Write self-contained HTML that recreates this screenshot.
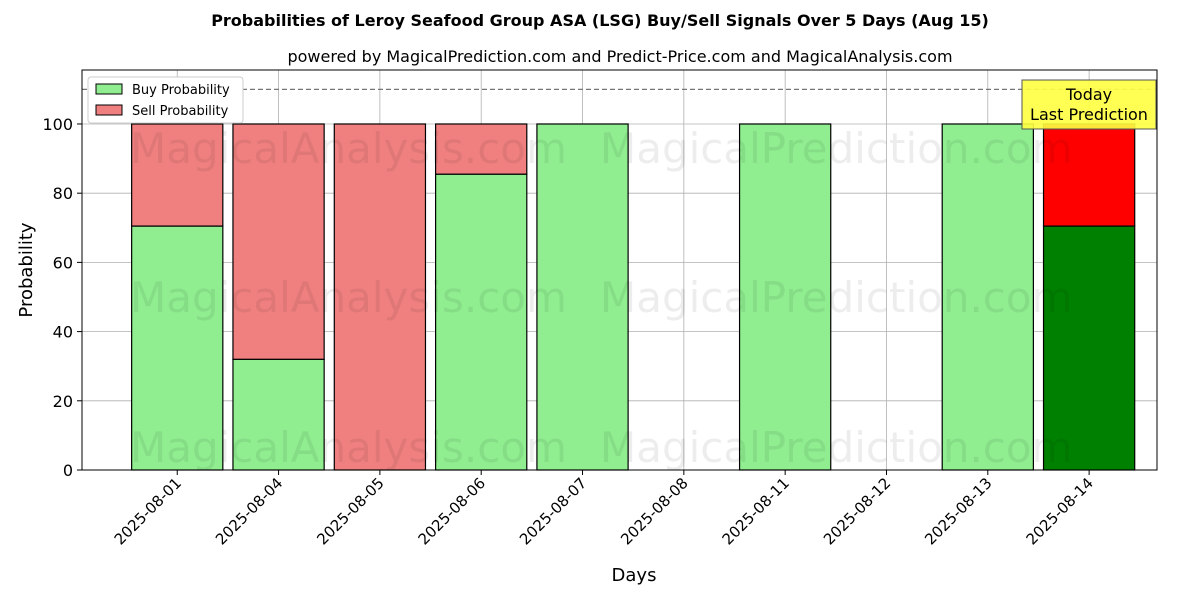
<!DOCTYPE html>
<html><head><meta charset="utf-8"><style>
body{margin:0;background:#fff;font-family:"Liberation Sans","DejaVu Sans",sans-serif}
svg text{font-family:"DejaVu Sans","Liberation Sans",sans-serif}
</style></head><body>
<svg id="chart" width="1200" height="600" xmlns="http://www.w3.org/2000/svg">
<text x="600" y="26" text-anchor="middle" font-size="16" font-weight="bold">Probabilities of Leroy Seafood Group ASA (LSG) Buy/Sell Signals Over 5 Days (Aug 15)</text>
<text x="620" y="62" text-anchor="middle" font-size="16">powered by MagicalPrediction.com and Predict-Price.com and MagicalAnalysis.com</text>
<g id="grid"></g>
<g id="bars"></g>
<g id="wm" fill="#000" fill-opacity="0.07" font-size="42">
<text x="130" y="163">MagicalAnalysis.com</text>
<text x="600" y="163">MagicalPrediction.com</text>
<text x="130" y="312">MagicalAnalysis.com</text>
<text x="600" y="312">MagicalPrediction.com</text>
<text x="130" y="462">MagicalAnalysis.com</text>
<text x="600" y="462">MagicalPrediction.com</text>
</g>
<g id="axes"></g>
<text x="634" y="581" text-anchor="middle" font-size="18">Days</text>
<text transform="translate(32,270) rotate(-90)" text-anchor="middle" font-size="18">Probability</text>
<g>
<rect x="88" y="77" width="155" height="46" fill="#fff" stroke="#ccc" rx="3"/>
<rect x="96" y="84" width="26" height="10" fill="#90ee90" stroke="#000"/>
<text x="132" y="94" font-size="13">Buy Probability</text>
<rect x="96" y="105" width="26" height="10" fill="#f08080" stroke="#000"/>
<text x="132" y="115" font-size="13">Sell Probability</text>
</g>
<g>
<rect x="1022" y="80" width="134" height="49" fill="#ffff40" stroke="#555" fill-opacity="0.9"/>
<text x="1089" y="100" text-anchor="middle" font-size="16">Today</text>
<text x="1089" y="120" text-anchor="middle" font-size="16">Last Prediction</text>
</g>
</svg>
<script>
const categories=["2025-08-01","2025-08-04","2025-08-05","2025-08-06","2025-08-07","2025-08-08","2025-08-11","2025-08-12","2025-08-13","2025-08-14"];
const buyValues=[70.5,32,0,85.5,100,0,100,0,100,70.5];
const sellValues=[29.5,68,100,14.5,0,0,0,0,0,29.5];
const yTicks=[0,20,40,60,80,100];
const NS="http://www.w3.org/2000/svg";
const L=82,R=1157,T=70,B=470,xmin=-0.94,xmax=9.67,ymax=115.6;
const xs=i=>L+(i-xmin)/(xmax-xmin)*(R-L);
const ys=v=>B-v/ymax*(B-T);
const bw=0.9*(xs(1)-xs(0));
function mk(tag,attrs,parent){const e=document.createElementNS(NS,tag);for(const k in attrs)e.setAttribute(k,attrs[k]);parent.appendChild(e);return e;}
const grid=document.getElementById('grid'),bars=document.getElementById('bars'),axes=document.getElementById('axes');
categories.forEach((c,i)=>{const g=mk('line',{x1:xs(i),x2:xs(i),y1:T,y2:B,stroke:'#b0b0b0','stroke-width':0.8},grid);

});
yTicks.forEach(v=>{const g=mk('line',{x1:L,x2:R,y1:ys(v),y2:ys(v),stroke:'#b0b0b0','stroke-width':0.8},grid);

});
const ref=mk('line',{x1:L,x2:R,y1:ys(110),y2:ys(110),stroke:'#777','stroke-dasharray':'5,3','stroke-width':1.2},grid);


categories.forEach((c,i)=>{
const last=i===categories.length-1;
const b=buyValues[i],s=sellValues[i];
if(b>0){const r=mk('rect',{x:xs(i)-bw/2,y:ys(b),width:bw,height:ys(0)-ys(b),fill:last?'#008000':'#90ee90',stroke:'#000','stroke-width':1.2},bars);

}
if(s>0){const r=mk('rect',{x:xs(i)-bw/2,y:ys(b+s),width:bw,height:ys(b)-ys(b+s),fill:last?'#ff0000':'#f08080',stroke:'#000','stroke-width':1.2},bars);

}
});
const frame=mk('rect',{x:L,y:T,width:R-L,height:B-T,fill:'none',stroke:'#000','stroke-width':1},axes);


yTicks.forEach(v=>{mk('line',{x1:L-5,x2:L,y1:ys(v),y2:ys(v),stroke:'#000'},axes);
const t=mk('text',{x:L-9,y:ys(v)+6,'text-anchor':'end','font-size':16},axes);t.textContent=v;

});
categories.forEach((c,i)=>{mk('line',{x1:xs(i),x2:xs(i),y1:B,y2:B+5,stroke:'#000'},axes);
const t=mk('text',{transform:`translate(${xs(i)+5},${B+14}) rotate(-45)`,'text-anchor':'end','font-size':15},axes);t.textContent=c;

});
</script>
</body></html>
